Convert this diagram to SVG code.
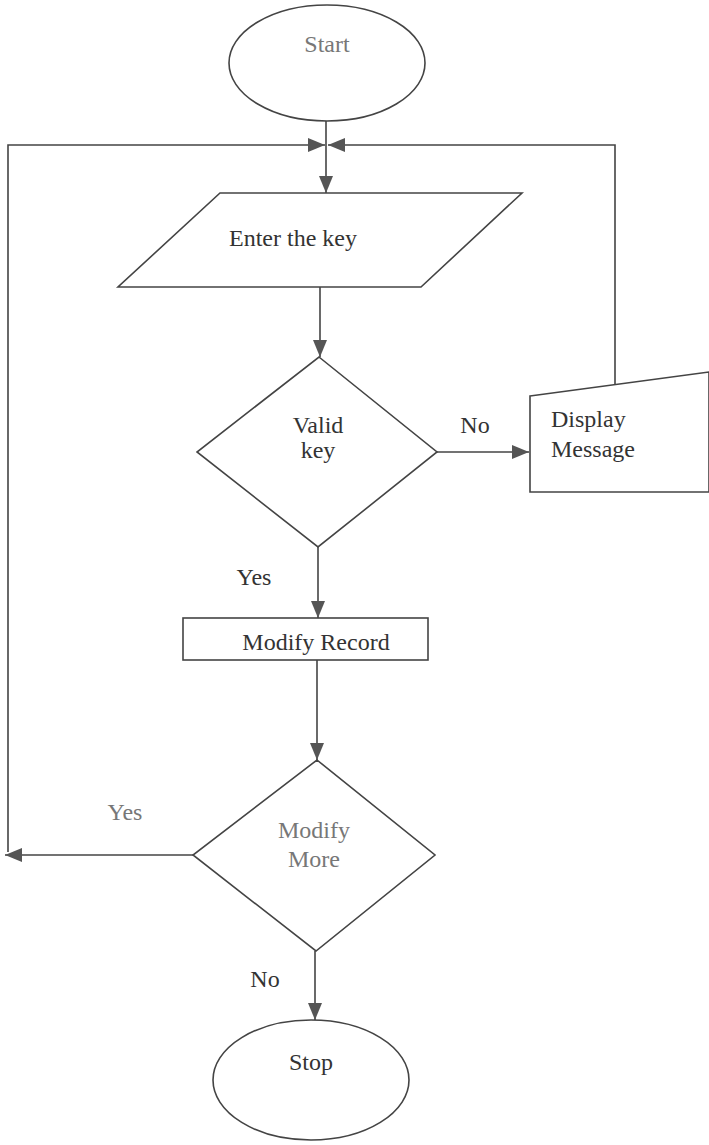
<svg xmlns="http://www.w3.org/2000/svg" width="709" height="1145" viewBox="0 0 709 1145">
<style>
.s{fill:#fff;stroke:#444;stroke-width:1.6}
.c{fill:none;stroke:#444;stroke-width:1.6}
.t{font-family:'Liberation Serif','DejaVu Serif',serif;font-size:24px;fill:#333}
.l{fill:#777}
</style>
<defs>
<marker id="ah" viewBox="0 0 17 14" refX="17" refY="7" markerWidth="17" markerHeight="14" markerUnits="userSpaceOnUse" orient="auto">
<path d="M0,0 L17,7 L0,14 Z" fill="#555"/>
</marker>
</defs>
<rect width="709" height="1145" fill="#fff"/>
<g id="connectors">
<path class="c" d="M326,121 V193" marker-end="url(#ah)"/>
<path class="c" d="M8,852 V145 H325" marker-end="url(#ah)"/>
<path class="c" d="M615,385 V145 H328" marker-end="url(#ah)"/>
<path class="c" d="M320,287 V357" marker-end="url(#ah)"/>
<path class="c" d="M437,452 H529" marker-end="url(#ah)"/>
<path class="c" d="M318,547 V618" marker-end="url(#ah)"/>
<path class="c" d="M317,660 V760" marker-end="url(#ah)"/>
<path class="c" d="M193,855 H5" marker-end="url(#ah)"/>
<path class="c" d="M315,951 V1020" marker-end="url(#ah)"/>
<text class="t" x="475" y="433" text-anchor="middle">No</text>
<text class="t" x="254" y="585" text-anchor="middle">Yes</text>
<text class="t l" x="125" y="820" text-anchor="middle">Yes</text>
<text class="t" x="265" y="987" text-anchor="middle">No</text>
</g>
<g id="start">
<ellipse class="s" cx="327" cy="63" rx="98" ry="58"/>
<text class="t l" x="327" y="52" text-anchor="middle">Start</text>
</g>
<g id="enter">
<polygon class="s" points="220,193 522,193 421,287 118,287"/>
<text class="t" x="293" y="246" text-anchor="middle">Enter the key</text>
</g>
<g id="valid">
<polygon class="s" points="319,357 437,452 318,547 197,452"/>
<text class="t" x="318" y="433" text-anchor="middle">Valid</text>
<text class="t" x="318" y="458" text-anchor="middle">key</text>
</g>
<g id="display">
<polygon class="s" points="530,396 709,372 709,492 530,492"/>
<text class="t" x="551" y="427">Display</text>
<text class="t" x="551" y="457">Message</text>
</g>
<g id="modify">
<rect class="s" x="183" y="618" width="245" height="42"/>
<text class="t" x="316" y="650" text-anchor="middle">Modify Record</text>
</g>
<g id="more">
<polygon class="s" points="317,760 435,855 316,951 193,855"/>
<text class="t l" x="314" y="838" text-anchor="middle">Modify</text>
<text class="t l" x="314" y="867" text-anchor="middle">More</text>
</g>
<g id="stop">
<ellipse class="s" cx="311" cy="1080" rx="98" ry="60"/>
<text class="t" x="311" y="1070" text-anchor="middle">Stop</text>
</g>
</svg>
